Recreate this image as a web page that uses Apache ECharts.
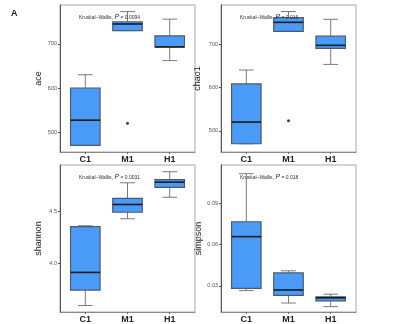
<!DOCTYPE html>
<html>
<head>
<meta charset="utf-8">
<script src="https://cdn.jsdelivr.net/npm/echarts@6/dist/echarts.min.js"></script>
<style>
  html, body { margin: 0; padding: 0; background: #fff; }
  #main { width: 402px; height: 324px; }
</style>
</head>
<body>
<div id="main"></div>
<script>
// groups on the x axis
const groups = ['C1', 'M1', 'H1'];

// box stats per group: [lower whisker, Q1, median, Q3, upper whisker]
const aceStats = [[470, 470, 527, 600, 630], [730, 730, 745, 750, 773], [662, 693, 693, 718, 756]];
const aceOutliers = [[1, 520]];
const chao1Stats = [[470, 470, 520, 608, 640], [729, 729, 750, 761, 775], [653, 690, 697, 718, 757]];
const chao1Outliers = [[1, 523]];
const shannonStats = [[3.593, 3.742, 3.913, 4.355, 4.364], [4.432, 4.495, 4.57, 4.629, 4.78], [4.64, 4.736, 4.786, 4.81, 4.887]];
const shannonOutliers = [];
const simpsonStats = [[0.0266, 0.0283, 0.0658, 0.0766, 0.1115], [0.0176, 0.0232, 0.0271, 0.0395, 0.041], [0.015, 0.0192, 0.0214, 0.0221, 0.024]];
const simpsonOutliers = [];

// tick labels
const aceTicks = [500, 600, 700];
const chao1Ticks = [500, 600, 700];
const shannonTicks = [4.0, 4.5];
const simpsonTicks = [0.03, 0.06, 0.09];

const pValues = ['0.0094', '0.016', '0.0031', '0.018'];

const font = 'Liberation Sans, Arial, sans-serif';
const groupIdx = groups.map((g, k) => k);

const panels = [
  { name: 'ace', stats: aceStats, out: aceOutliers, ticks: aceTicks, min: 455, max: 788, dec: 0,
    grid: { left: 60, top: 5, width: 135, height: 147 }, nameGap: 17 },
  { name: 'chao1', stats: chao1Stats, out: chao1Outliers, ticks: chao1Ticks, min: 451, max: 790, dec: 0,
    grid: { left: 221, top: 5, width: 135, height: 147 }, nameGap: 19 },
  { name: 'shannon', stats: shannonStats, out: shannonOutliers, ticks: shannonTicks, min: 3.53, max: 4.952, dec: 1,
    grid: { left: 60, top: 165, width: 135, height: 147 }, nameGap: 17 },
  { name: 'simpson', stats: simpsonStats, out: simpsonOutliers, ticks: simpsonTicks, min: 0.0111, max: 0.1178, dec: 2,
    grid: { left: 221, top: 165, width: 135, height: 147 }, nameGap: 18 }
];

function renderBox(params, api) {
  const x = api.value(0);
  const lo = api.coord([x, api.value(1)]);
  const q1 = api.coord([x, api.value(2)]);
  const med = api.coord([x, api.value(3)]);
  const q3 = api.coord([x, api.value(4)]);
  const hi = api.coord([x, api.value(5)]);
  const unit = api.size([1, 0])[0];
  const bw = unit * 0.7;
  const cw = bw * 0.5;
  const cx = q1[0];
  const whisk = { stroke: '#7a7a7a', lineWidth: 1 };
  return {
    type: 'group',
    children: [
      { type: 'line', shape: { x1: cx, y1: q3[1], x2: cx, y2: hi[1] }, style: whisk },
      { type: 'line', shape: { x1: cx, y1: q1[1], x2: cx, y2: lo[1] }, style: whisk },
      { type: 'line', shape: { x1: cx - cw / 2, y1: hi[1], x2: cx + cw / 2, y2: hi[1] }, style: whisk },
      { type: 'line', shape: { x1: cx - cw / 2, y1: lo[1], x2: cx + cw / 2, y2: lo[1] }, style: whisk },
      { type: 'rect', shape: { x: cx - bw / 2, y: q3[1], width: bw, height: q1[1] - q3[1] },
        style: { fill: '#4a9bf8', stroke: '#4d5a6e', lineWidth: 1.2 } },
      { type: 'line', shape: { x1: cx - bw / 2, y1: med[1], x2: cx + bw / 2, y2: med[1] },
        style: { stroke: '#1a1a1a', lineWidth: 1.6 } }
    ]
  };
}

const option = {
  backgroundColor: '#fff',
  animation: false,
  title: [{ text: 'A', left: 6, top: 4, textStyle: { fontSize: 9, fontWeight: 'bold', color: '#222', fontFamily: font } }]
    .concat(panels.map((p, i) => ({
      text: 'Kruskal\u2013Wallis, {p|P} = ' + pValues[i],
      left: p.grid.left + 14,
      top: p.grid.top + 4,
      textStyle: {
        fontSize: 5, fontWeight: 'normal', color: '#333', fontFamily: font,
        rich: { p: { fontSize: 7, fontStyle: 'italic', color: '#222' } }
      }
    }))),
  grid: panels.map(p => Object.assign({ show: true, borderColor: '#a8a8a8', borderWidth: 1, backgroundColor: '#fff' }, p.grid)),
  xAxis: panels.map((p, i) => ({
    type: 'value', gridIndex: i, min: -0.6, max: 2.6,
    axisLine: { onZero: false, lineStyle: { color: '#8a8a8a', width: 1 } },
    axisTick: { show: true, length: 2, customValues: groupIdx, lineStyle: { color: '#666' } },
    axisLabel: { fontSize: 9, fontWeight: 'bold', color: '#222', margin: 3, fontFamily: font,
      customValues: groupIdx, formatter: v => groups[Math.round(v)] },
    splitLine: { show: false }
  })),
  yAxis: panels.map((p, i) => ({
    type: 'value', gridIndex: i, min: p.min, max: p.max,
    name: p.name, nameLocation: 'middle', nameGap: p.nameGap, nameRotate: 90,
    nameTextStyle: { fontSize: 9, color: '#222', fontFamily: font },
    axisLine: { show: true, onZero: false, lineStyle: { color: '#555', width: 1 } },
    axisTick: { show: true, length: 2, customValues: p.ticks, lineStyle: { color: '#555' } },
    axisLabel: { fontSize: 5.5, color: '#555', margin: 3, fontFamily: font, customValues: p.ticks,
      formatter: v => v.toFixed(p.dec) },
    splitLine: { show: false }
  })),
  series: panels.flatMap((p, i) => [
    {
      type: 'custom', xAxisIndex: i, yAxisIndex: i,
      renderItem: renderBox,
      encode: { x: 0, y: [1, 2, 3, 4, 5] },
      data: p.stats.map((s, k) => [k].concat(s))
    },
    {
      type: 'scatter', xAxisIndex: i, yAxisIndex: i,
      symbolSize: 3, itemStyle: { color: '#111' },
      data: p.out
    }
  ])
};

const chart = echarts.init(document.getElementById('main'), null, { renderer: 'canvas' });
chart.setOption(option);
</script>
</body>
</html>
